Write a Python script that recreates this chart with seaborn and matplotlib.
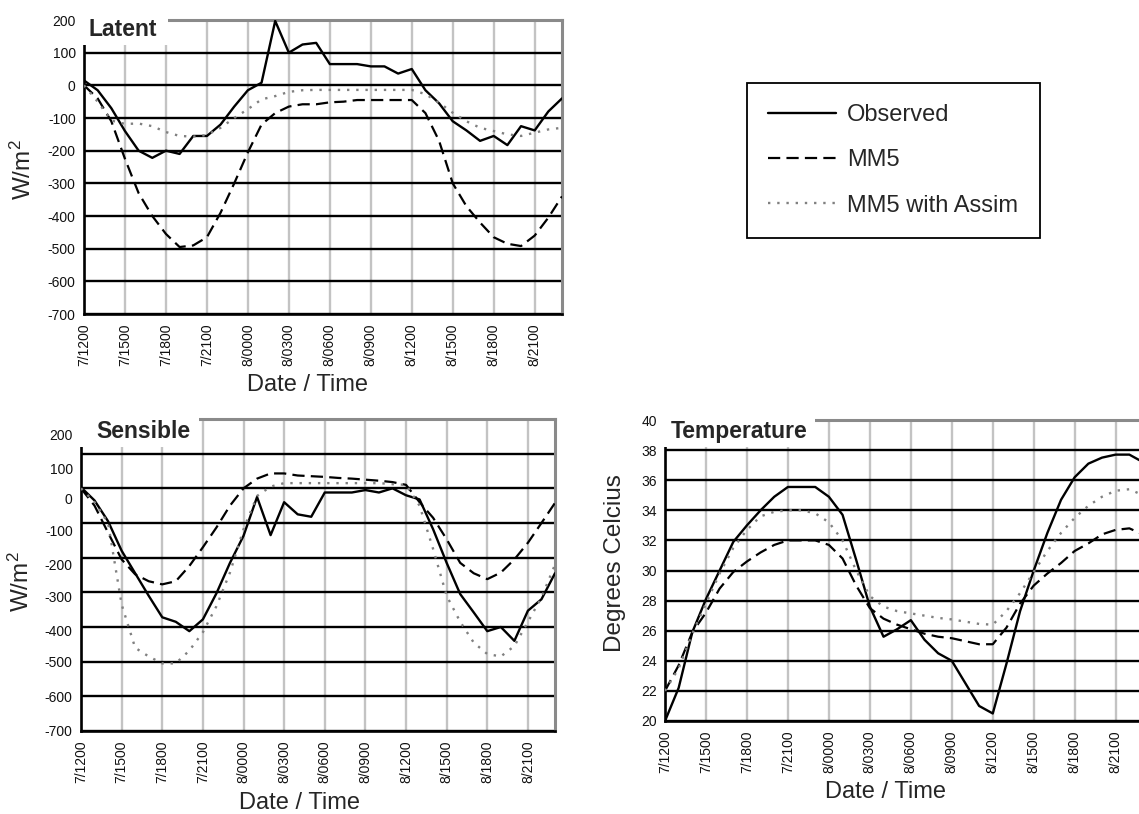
import matplotlib
matplotlib.use("Agg")
import matplotlib.pyplot as plt
import seaborn as sns
from matplotlib.patches import Rectangle
from matplotlib.transforms import ScaledTranslation

# ---------------- data ----------------
hours = list(range(36))  # hourly steps, 7/1200 ... 8/2300
tick_hours = [0, 3, 6, 9, 12, 15, 18, 21, 24, 27, 30, 33]
tick_labels = ["7/1200", "7/1500", "7/1800", "7/2100", "8/0000", "8/0300",
               "8/0600", "8/0900", "8/1200", "8/1500", "8/1800", "8/2100"]
series_names = ["Observed", "MM5", "MM5 with Assim"]

latent_observed = [15, -15, -70, -140, -200, -222, -200, -210, -155, -155,
                   -120, -65, -15, 8, 197, 100, 125, 130, 65, 65,
                   65, 58, 58, 36, 50, -15, -55, -110, -138, -170,
                   -155, -183, -125, -138, -80, -40]
latent_mm5 = [0, -40, -110, -225, -330, -400, -455, -495, -490, -465,
              -390, -300, -205, -120, -85, -65, -58, -58, -52, -50,
              -45, -45, -45, -45, -45, -85, -170, -300, -370, -420,
              -465, -485, -492, -460, -405, -340]
latent_assim = [0, -50, -108, -118, -117, -125, -143, -155, -157, -152,
                -130, -100, -73, -43, -33, -20, -15, -14, -14, -14,
                -14, -14, -14, -14, -14, -27, -53, -84, -110, -130,
                -140, -150, -155, -145, -135, -130]

sensible_observed = [3, -35, -95, -180, -245, -310, -372, -385, -412, -378,
                     -303, -215, -137, -25, -135, -40, -75, -82, -12, -12,
                     -12, -5, -12, 0, -20, -32, -118, -215, -305, -358,
                     -412, -400, -440, -353, -320, -245]
sensible_mm5 = [0, -50, -128, -205, -248, -268, -277, -268, -224, -170,
                -113, -50, 0, 28, 43, 43, 37, 35, 33, 30,
                28, 25, 22, 18, 10, -40, -85, -147, -215, -245,
                -262, -243, -205, -157, -100, -42]
sensible_assim = [0, -40, -100, -335, -460, -485, -505, -505, -468, -415,
                  -340, -243, -118, -22, 5, 15, 15, 15, 15, 15,
                  15, 15, 15, 12, 10, -50, -175, -310, -385, -445,
                  -478, -485, -455, -385, -315, -220]

temp_observed = [20.0, 22.2, 25.9, 28.1, 30.0, 31.9, 33.0, 34.0, 34.9, 35.55,
                 35.55, 35.55, 34.9, 33.7, 30.7, 27.6, 25.6, 26.1, 26.7, 25.4,
                 24.5, 24.0, 22.5, 21.0, 20.5, 23.8, 27.3, 30.0, 32.5, 34.7,
                 36.2, 37.1, 37.5, 37.7, 37.7, 37.2]
temp_mm5 = [22.0, 23.7, 25.9, 27.2, 28.8, 29.9, 30.6, 31.2, 31.7, 32.0,
            32.0, 32.0, 31.7, 30.8, 29.0, 27.5, 26.8, 26.4, 26.1, 25.8,
            25.6, 25.5, 25.3, 25.1, 25.1, 26.2, 27.8, 29.0, 29.8, 30.5,
            31.3, 31.8, 32.4, 32.7, 32.8, 32.4]
temp_assim = [22.0, 23.5, 25.8, 27.8, 29.8, 31.5, 32.7, 33.6, 33.9, 34.0,
              34.0, 33.8, 33.2, 32.0, 30.0, 28.3, 27.6, 27.3, 27.15, 27.0,
              26.85, 26.75, 26.6, 26.45, 26.4, 27.3, 28.5, 29.9, 31.3, 32.5,
              33.5, 34.3, 34.9, 35.3, 35.4, 35.0]

flux_ticks = [-700, -600, -500, -400, -300, -200, -100, 0, 100, 200]
temp_ticks = [20, 22, 24, 26, 28, 30, 32, 34, 36, 38, 40]

# ---------------- style ----------------
sns.set_style("white")
plt.rcParams["font.family"] = ["Liberation Sans", "DejaVu Sans"]
plt.rcParams["mathtext.fontset"] = "custom"
plt.rcParams["mathtext.rm"] = "Liberation Sans"
plt.rcParams["mathtext.default"] = "regular"

styles = {
    "Observed": dict(color="black", lw=1.7, ls="-"),
    "MM5": dict(color="black", lw=1.6, ls=(0, (5.5, 2.8))),
    "MM5 with Assim": dict(color="#808080", lw=1.7, ls=(0, (1.0, 2.9))),
}

W, H = 1139, 814
fig = plt.figure(figsize=(W / 100, H / 100), dpi=100)


def px_axes(l, t, r, b):
    return fig.add_axes([l / W, 1 - b / H, (r - l) / W, (b - t) / H])


def draw_panel(ax, data, ylim, yticks, ylabel, ylabel_xy, xlabel_xy):
    for vals, name in zip(data, series_names):
        st = styles[name]
        sns.lineplot(x=hours, y=vals, ax=ax, color=st["color"], linewidth=st["lw"],
                     linestyle=st["ls"], legend=False, errorbar=None, zorder=3)
    ax.set_xlim(0, 35)
    ax.set_ylim(*ylim)
    ax.set_xticks(tick_hours)
    ax.set_xticklabels(tick_labels)
    ax.set_yticks(yticks)
    ax.set_yticklabels([str(v) for v in yticks])
    ax.set_axisbelow(True)
    ax.grid(axis="x", color="#c3c3c3", lw=1.7)
    ax.grid(axis="y", color="black", lw=1.7)
    for s in ["left", "bottom"]:
        ax.spines[s].set_color("black")
        ax.spines[s].set_linewidth(1.9)
    for s in ["top", "right"]:
        ax.spines[s].set_color("#8a8a8a")
        ax.spines[s].set_linewidth(2.2)
    ax.tick_params(axis="both", direction="inout", length=6, width=1.6,
                   color="black", labelsize=10, labelcolor="#111111")
    ax.tick_params(axis="x", labelrotation=90, pad=4)
    ax.tick_params(axis="y", pad=3)
    ax.set_xlabel("Date / Time", fontsize=17, va="center")
    ax.xaxis.set_label_coords(*xlabel_xy)
    ax.set_ylabel(ylabel, fontsize=17.5, va="center")
    ax.yaxis.set_label_coords(*ylabel_xy)


def title_box(text, x0, x1, y0, y1, tx, ty):
    fig.add_artist(Rectangle((x0 / W, 1 - y1 / H), (x1 - x0) / W, (y1 - y0) / H,
                             transform=fig.transFigure, facecolor="white",
                             edgecolor="none", zorder=5))
    fig.text(tx / W, 1 - ty / H, text, fontsize=16.5, fontweight="bold",
             ha="left", va="center", zorder=6)


# Latent
ax_lat = px_axes(84, 20, 562, 314)
draw_panel(ax_lat, [latent_observed, latent_mm5, latent_assim], (-700, 200), flux_ticks,
           "W/m$^{2}$", (-0.128, 0.49), (0.467, -0.24))
title_box("Latent", 82, 168, 16, 45, 89, 30)

# Sensible
ax_sen = px_axes(81, 419, 555, 731)
draw_panel(ax_sen, [sensible_observed, sensible_mm5, sensible_assim], (-700, 200), flux_ticks,
           "W/m$^{2}$", (-0.125, 0.48), (0.462, -0.23))
title_box("Sensible", 79, 199, 415, 447, 96, 431)
# tick labels in the source are drawn slightly below their grid lines near the top
shift_px = [0, 0, 0, 4, 4, 7, 7, 10, 15, 16]
for lab, d in zip(ax_sen.get_yticklabels(), shift_px):
    lab.set_transform(lab.get_transform() + ScaledTranslation(0, -d / 100, fig.dpi_scale_trans))

# Temperature
ax_tmp = px_axes(665, 420, 1143, 721)
draw_panel(ax_tmp, [temp_observed, temp_mm5, temp_assim], (20, 40), temp_ticks,
           "Degrees Celcius", (-0.105, 0.525), (0.462, -0.235))
title_box("Temperature", 663, 815, 414, 447, 671, 432)

# Legend
handles = ax_lat.lines[:3]
leg = fig.legend(handles, series_names, loc="upper left",
                 bbox_to_anchor=(747 / W, 1 - 83 / H), bbox_transform=fig.transFigure,
                 frameon=True, fancybox=False, edgecolor="black", framealpha=1,
                 fontsize=17, handlelength=2.85, handletextpad=0.5,
                 labelspacing=0.98, borderpad=0.9, borderaxespad=0)
leg.get_frame().set_linewidth(1.3)

fig.savefig("out.png", dpi=100)
